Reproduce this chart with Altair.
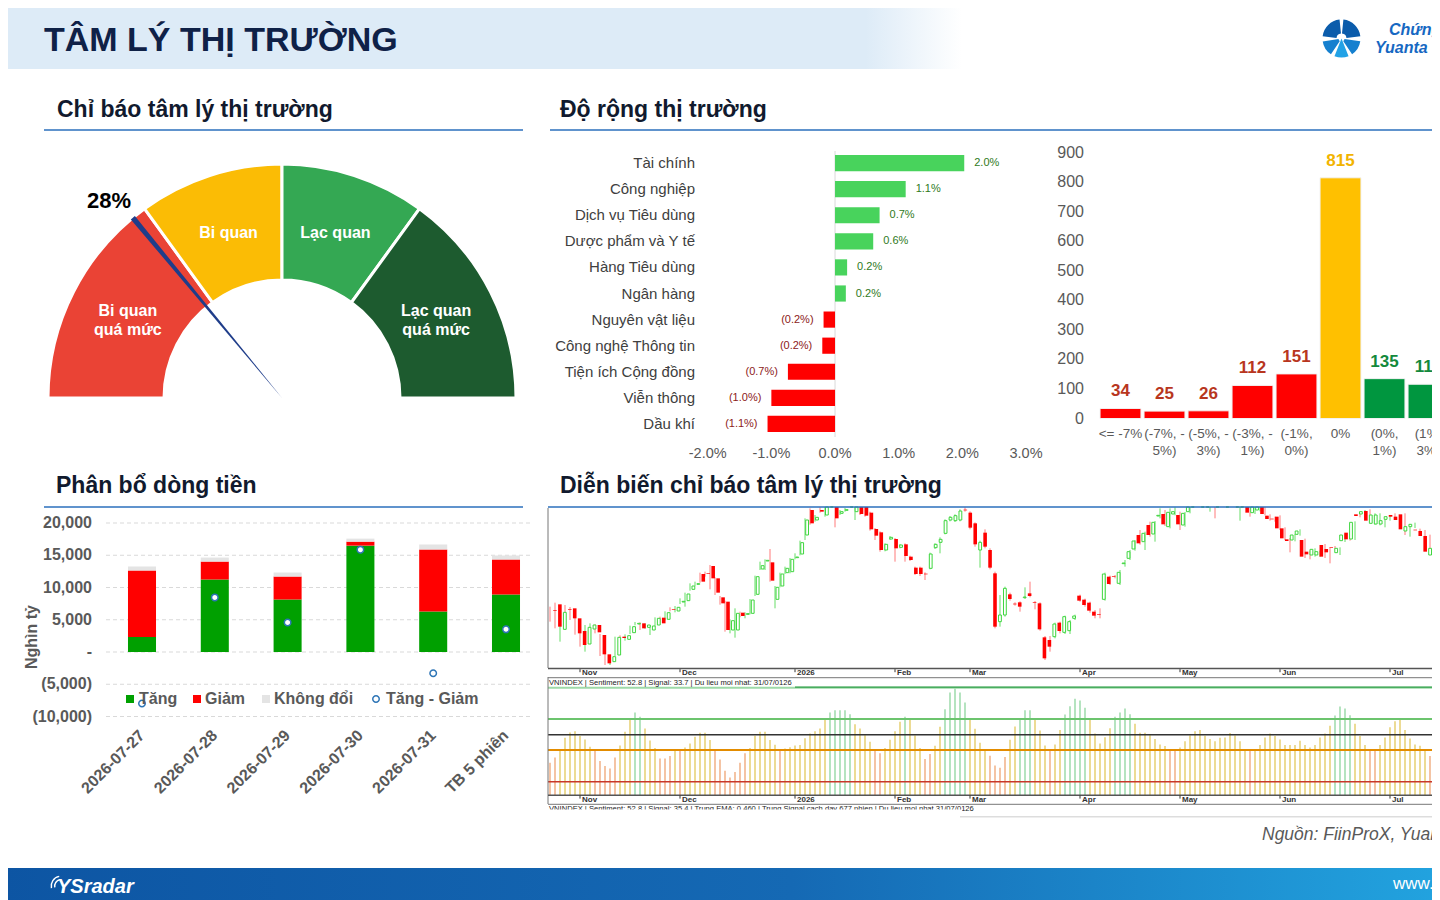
import altair as alt
import pandas as pd

FONT = "Liberation Sans"
W, H = 1424, 892


def px(x):
    return x - 8


def py(y):
    return y - 8


# ---------------------------------------------------------------- data
gauge_bounds = [0, 30, 50, 70, 100]
gauge_names = ["Bi quan\nquá mức", "Bi quan", "Lạc quan", "Lạc quan\nquá mức"]
gauge_colors = ["#ea4335", "#fbbc05", "#34a853", "#1d5b2f"]
sentiment_pct = 28

sectors = ["Tài chính", "Công nghiệp", "Dịch vụ Tiêu dùng", "Dược phẩm và Y tế",
           "Hàng Tiêu dùng", "Ngân hàng", "Nguyên vật liệu", "Công nghệ Thông tin",
           "Tiện ích Cộng đồng", "Viễn thông", "Dầu khí"]
sector_chg = [2.03, 1.11, 0.70, 0.60, 0.19, 0.17, -0.18, -0.20, -0.74, -1.00, -1.06]
sector_ticks = [-2, -1, 0, 1, 2, 3]
sector_tick_labels = ["-2.0%", "-1.0%", "0.0%", "1.0%", "2.0%", "3.0%"]

breadth_bins = ["<= -7%", "(-7%, -\n5%)", "(-5%, -\n3%)", "(-3%, -\n1%)",
                "(-1%,\n0%)", "0%", "(0%,\n1%)", "(1%,\n3%)"]
breadth_counts = [34, 25, 26, 112, 151, 815, 135, 116]
breadth_ticks = [0, 100, 200, 300, 400, 500, 600, 700, 800, 900]

flow_days = ["2026-07-27", "2026-07-28", "2026-07-29", "2026-07-30", "2026-07-31", "TB 5 phiên"]
flow_up = [2320, 11240, 8140, 16490, 6290, 8920]
flow_down = [10310, 2780, 3560, 620, 9590, 5410]
flow_flat = [620, 620, 620, 470, 770, 620]
flow_ticks = [20000, 15000, 10000, 5000, 0, -5000, -10000]
flow_tick_labels = ["20,000\u00a0", "15,000\u00a0", "10,000\u00a0", "5,000\u00a0",
                    "-\u00a0\u00a0\u00a0\u00a0", "(5,000)", "(10,000)"]

candle_open = [
    1670, 1687, 1612, 1673, 1675, 1645, 1607, 1568, 1613, 1625,
    1595, 1537, 1515, 1535, 1590, 1582, 1602, 1628, 1630, 1618,
    1610, 1625, 1647, 1642, 1673, 1667, 1694, 1698, 1732, 1747,
    1778, 1781, 1802, 1765, 1708, 1695, 1610, 1610, 1662, 1657,
    1660, 1717, 1793, 1817, 1813, 1702, 1742, 1782, 1785, 1827,
    1838, 1895, 1970, 1940, 1970, 1955, 1990, 1985, 1960, 1969,
    1985, 1965, 1985, 1985, 1962, 1913, 1903, 1850, 1883, 1883,
    1858, 1867, 1830, 1797, 1797, 1779, 1795, 1857, 1873, 1900,
    1940, 1938, 1940, 1971, 1962, 1930, 1850, 1902, 1850, 1780,
    1635, 1655, 1717, 1689, 1693, 1707, 1720, 1693, 1690, 1588,
    1580, 1590, 1632, 1603, 1608, 1645, 1713, 1701, 1692, 1665,
    1658, 1702, 1770, 1771, 1750, 1809, 1825, 1853, 1895, 1875,
    1925, 1898, 1952, 1958, 1920, 1958, 1955, 1925, 1965, 1985,
    1998, 1990, 1985, 1990, 1988, 2000, 1992, 1998, 1985, 1990,
    1985, 1962, 1970, 1985, 1953, 1944, 1950, 1915, 1882, 1880,
    1897, 1880, 1845, 1835, 1835, 1865, 1853, 1859, 1842, 1878,
    1902, 1883, 1957, 1958, 1967, 1930, 1928, 1928, 1942, 1955,
    1950, 1957, 1907, 1920, 1911, 1907, 1892, 1835, 1855]
candle_close = [
    1668, 1620, 1663, 1671, 1645, 1600, 1565, 1618, 1625, 1603,
    1537, 1510, 1530, 1588, 1586, 1593, 1620, 1630, 1615, 1625,
    1622, 1645, 1630, 1662, 1671, 1678, 1696, 1718, 1742, 1749,
    1755, 1779, 1765, 1722, 1690, 1610, 1638, 1660, 1652, 1659,
    1700, 1770, 1803, 1819, 1758, 1738, 1778, 1795, 1822, 1829,
    1872, 1940, 1930, 1948, 1965, 1985, 1995, 1945, 1965, 1971,
    1992, 1985, 1958, 1953, 1912, 1893, 1850, 1867, 1888, 1855,
    1865, 1832, 1820, 1778, 1778, 1777, 1838, 1867, 1882, 1938,
    1948, 1953, 1967, 1969, 1917, 1867, 1873, 1860, 1797, 1620,
    1655, 1735, 1703, 1687, 1680, 1709, 1712, 1691, 1612, 1525,
    1560, 1628, 1607, 1650, 1635, 1652, 1698, 1685, 1668, 1653,
    1656, 1778, 1748, 1769, 1783, 1811, 1845, 1877, 1870, 1900,
    1895, 1933, 1954, 1927, 1963, 1965, 1927, 1960, 1980, 1995,
    1990, 1998, 1992, 1984, 1996, 1990, 2000, 1990, 1992, 1996,
    1962, 1985, 1985, 1958, 1943, 1942, 1915, 1885, 1877, 1895,
    1907, 1830, 1837, 1852, 1845, 1830, 1843, 1857, 1855, 1895,
    1882, 1933, 1952, 1965, 1938, 1955, 1955, 1938, 1950, 1950,
    1940, 1912, 1920, 1927, 1909, 1892, 1845, 1855, 1817]
candle_high = [
    1680, 1692, 1667, 1685, 1679, 1648, 1610, 1625, 1630, 1627,
    1598, 1545, 1533, 1590, 1594, 1597, 1623, 1634, 1633, 1629,
    1625, 1648, 1650, 1666, 1678, 1682, 1705, 1722, 1750, 1755,
    1782, 1785, 1805, 1768, 1712, 1698, 1642, 1675, 1665, 1663,
    1703, 1773, 1815, 1822, 1853, 1742, 1782, 1800, 1826, 1840,
    1878, 1945, 1975, 1955, 1978, 1990, 2000, 1990, 1970, 1976,
    1998, 1990, 1990, 1990, 1965, 1916, 1906, 1870, 1892, 1886,
    1868, 1870, 1833, 1800, 1800, 1783, 1842, 1870, 1888, 1942,
    1952, 1957, 1972, 1978, 1966, 1933, 1878, 1912, 1855, 1785,
    1715, 1740, 1722, 1693, 1696, 1738, 1755, 1697, 1693, 1592,
    1592, 1632, 1635, 1653, 1640, 1656, 1716, 1704, 1695, 1670,
    1675, 1782, 1773, 1775, 1790, 1820, 1850, 1880, 1910, 1905,
    1935, 1937, 1975, 1970, 1975, 1978, 1965, 1964, 1985, 2000,
    2005, 2005, 1998, 1995, 2002, 2005, 2005, 2004, 1998, 2002,
    1990, 1990, 1990, 1990, 1957, 1950, 1954, 1918, 1886, 1898,
    1912, 1884, 1848, 1855, 1848, 1868, 1856, 1862, 1858, 1898,
    1905, 1936, 1962, 1970, 1972, 1960, 1960, 1942, 1955, 1960,
    1954, 1960, 1924, 1932, 1914, 1910, 1896, 1858, 1860]
candle_low = [
    1635, 1615, 1575, 1660, 1640, 1596, 1560, 1545, 1608, 1600,
    1532, 1505, 1505, 1532, 1582, 1578, 1598, 1624, 1610, 1614,
    1595, 1622, 1627, 1639, 1666, 1663, 1688, 1680, 1728, 1742,
    1752, 1770, 1732, 1715, 1686, 1605, 1600, 1587, 1648, 1645,
    1657, 1712, 1790, 1790, 1755, 1675, 1738, 1778, 1780, 1822,
    1834, 1880, 1926, 1935, 1962, 1950, 1985, 1918, 1955, 1965,
    1980, 1940, 1955, 1950, 1908, 1880, 1845, 1846, 1880, 1815,
    1855, 1815, 1817, 1775, 1772, 1760, 1792, 1853, 1840, 1897,
    1936, 1934, 1936, 1965, 1912, 1860, 1797, 1855, 1792, 1615,
    1620, 1650, 1698, 1683, 1665, 1703, 1708, 1672, 1608, 1520,
    1545, 1585, 1600, 1598, 1598, 1640, 1695, 1680, 1662, 1645,
    1645, 1698, 1745, 1765, 1745, 1800, 1820, 1848, 1866, 1850,
    1890, 1875, 1945, 1922, 1915, 1954, 1910, 1920, 1960, 1980,
    1985, 1985, 1965, 1945, 1982, 1985, 1988, 1985, 1938, 1985,
    1950, 1958, 1966, 1954, 1938, 1935, 1910, 1880, 1843, 1876,
    1893, 1826, 1822, 1830, 1830, 1826, 1810, 1852, 1835, 1874,
    1878, 1880, 1948, 1955, 1934, 1926, 1924, 1918, 1938, 1946,
    1936, 1895, 1890, 1916, 1905, 1888, 1835, 1810, 1812]

sentiment_osc = [
    30.1, 35.0, 42.8, 53.3, 58.3, 59.5, 54.9, 51.8, 45.0, 41.2,
    31.6, 27.0, 24.8, 35.0, 46.2, 58.9, 69.8, 76.9, 72.9, 62.0,
    50.8, 43.7, 34.1, 34.1, 36.3, 42.5, 41.9, 44.3, 48.1, 54.3,
    58.0, 58.0, 51.2, 41.9, 33.2, 22.6, 16.4, 21.4, 30.1, 38.8,
    43.7, 55.2, 58.9, 58.9, 51.2, 46.8, 41.9, 43.4, 44.6, 46.2,
    46.5, 53.0, 57.4, 59.5, 62.0, 70.4, 76.9, 79.1, 79.1, 79.1,
    75.3, 66.0, 62.0, 55.8, 49.6, 41.2, 38.8, 43.7, 51.5, 59.5,
    68.2, 72.9, 70.4, 55.5, 43.7, 33.5, 38.1, 45.9, 63.6, 80.0,
    95.5, 99.2, 95.5, 86.2, 69.8, 61.7, 48.7, 42.8, 36.6, 27.6,
    25.4, 35.3, 51.5, 63.9, 71.0, 79.1, 79.1, 70.4, 60.1, 46.2,
    41.2, 47.1, 60.5, 75.0, 82.8, 89.6, 88.0, 81.2, 70.4, 57.4,
    48.1, 53.9, 62.3, 72.9, 76.9, 80.6, 75.3, 66.3, 58.0, 58.0,
    55.8, 52.1, 47.1, 45.6, 41.9, 41.9, 44.3, 50.2, 55.5, 59.5,
    60.5, 55.2, 52.1, 50.2, 53.3, 53.6, 57.7, 55.5, 50.2, 42.5,
    41.5, 42.5, 46.5, 53.6, 57.4, 54.9, 51.8, 46.5, 46.5, 46.5,
    50.5, 46.5, 44.3, 46.5, 53.6, 57.4, 64.5, 74.1, 82.5, 80.6,
    74.4, 66.3, 54.9, 46.5, 41.9, 41.9, 46.5, 53.6, 63.2, 68.8,
    70.7, 60.5, 52.7, 47.1, 45.9, 42.5, 36.3, 34.7, 28.8]
osc_levels = [100, 70.8, 56.2, 41.9, 12.4]
osc_level_colors = ["#9edaa8", "#6cc46e", "#333333", "#e38c00", "#c8382a"]
osc_level_widths = [2.0, 2.0, 1.5, 2.0, 1.5]

month_names = ["Nov", "Dec", "2026", "Feb", "Mar", "Apr", "May", "Jun", "Jul"]
month_pos = [7, 27, 50, 70, 85, 107, 127, 147, 169]

# ---------------------------------------------------------------- helpers
ONE = pd.DataFrame({"k": [0]})
layers = []


def rect(x1, y1, x2, y2, **props):
    return alt.Chart(ONE).mark_rect(**props).encode(
        x=alt.value(px(x1)), x2=alt.value(px(x2)),
        y=alt.value(py(y1)), y2=alt.value(py(y2)))


def hline(x1, x2, y, color, w=1.0, dash=None):
    p = dict(color=color, strokeWidth=w)
    if dash:
        p["strokeDash"] = dash
    return alt.Chart(ONE).mark_rule(**p).encode(
        x=alt.value(px(x1)), x2=alt.value(px(x2)), y=alt.value(py(y)))


def vline(x, y1, y2, color, w=1.0):
    return alt.Chart(ONE).mark_rule(color=color, strokeWidth=w).encode(
        x=alt.value(px(x)), y=alt.value(py(y1)), y2=alt.value(py(y2)))


def text(s, x, y, size=12, color="#000000", weight="normal", align="left",
         baseline="middle", italic=False, **kw):
    p = dict(font=FONT, fontSize=size, color=color, fontWeight=weight,
             align=align, baseline=baseline)
    if italic:
        p["fontStyle"] = "italic"
    p.update(kw)
    return alt.Chart(pd.DataFrame({"t": [s]})).mark_text(**p).encode(
        x=alt.value(px(x)), y=alt.value(py(y)), text="t:N")


def wedge(cx, cy, a, b, r, r2, color):
    return alt.Chart(ONE).mark_arc(color=color).encode(
        theta=alt.value(a), theta2=alt.value(b), radius=alt.value(r), radius2=alt.value(r2),
        x=alt.value(px(cx)), y=alt.value(py(cy)))


def grad(stops):
    return {"gradient": "linear", "x1": 0, "x2": 1, "y1": 0, "y2": 0,
            "stops": [{"offset": o, "color": c} for o, c in stops]}


# ---------------------------------------------------------------- header
layers.append(rect(0, 0, 962, 69, fill=grad([(0, "#ddebf7"), (0.9, "#ddebf7"), (1, "#ffffff")])))
layers.append(text("TÂM LÝ THỊ TRƯỜNG", 44, 41, size=34, color="#0f2147", weight="bold"))

# logo (top right)
for a, b, r2, c in [(0.10, 1.45, 5, "#0b5cab"), (4.83, 6.18, 5, "#0b5cab"),
                    (1.72, 2.55, 3, "#1580cf"), (3.73, 4.56, 3, "#1580cf"),
                    (2.76, 3.52, 0, "#22a2e6")]:
    layers.append(wedge(1341.5, 38.5, a, b, 19, r2, c))
layers.append(text("Chứng khoán", 1389, 30, size=16, color="#1668c2", weight="bold", italic=True))
layers.append(text("Yuanta", 1375, 47.5, size=16, color="#1668c2", weight="bold", italic=True))

# section titles
TITLE_C = "#111a2e"
UL_C = "#2b6fbd"
layers.append(text("Chỉ báo tâm lý thị trường", 57, 110, size=23, color=TITLE_C, weight="bold"))
layers.append(hline(44, 523, 130, UL_C, 1.5))
layers.append(text("Độ rộng thị trường", 560, 110, size=23, color=TITLE_C, weight="bold"))
layers.append(hline(550, 1440, 130, UL_C, 1.5))
layers.append(text("Phân bổ dòng tiền", 56, 486, size=23, color=TITLE_C, weight="bold"))
layers.append(hline(44, 523, 507, UL_C, 1.5))
layers.append(text("Diễn biến chỉ báo tâm lý thị trường", 560, 486, size=23, color=TITLE_C, weight="bold"))

# ---------------------------------------------------------------- gauge
THETA = alt.Scale(domain=[0, 100], range=[4.71238898, 7.85398163])
GX, GY = px(282), py(398)
gdf = pd.DataFrame({"s": gauge_bounds[:-1], "e": gauge_bounds[1:], "c": gauge_colors,
                    "name": gauge_names,
                    "m": [(a + b) / 2 for a, b in zip(gauge_bounds[:-1], gauge_bounds[1:])]})
gdf["multi"] = gdf["name"].str.contains("\n")
layers.append(alt.Chart(gdf).mark_arc(stroke="white", strokeWidth=3).encode(
    theta=alt.Theta("s:Q", scale=THETA, stack=False), theta2="e:Q",
    radius=alt.value(234), radius2=alt.value(118),
    x=alt.value(GX), y=alt.value(GY), color=alt.Color("c:N", scale=None)))
ndf = pd.DataFrame({"s": [sentiment_pct - 0.36], "e": [sentiment_pct + 0.36]})
layers.append(alt.Chart(ndf).mark_arc(color="#1f3d8a").encode(
    theta=alt.Theta("s:Q", scale=THETA, stack=False), theta2="e:Q",
    radius=alt.value(234), radius2=alt.value(0),
    x=alt.value(GX), y=alt.value(GY)))
for sub, ddy in ((gdf[~gdf.multi], 0), (gdf[gdf.multi], -8.5)):
    layers.append(alt.Chart(sub).mark_text(font=FONT, fontSize=16, fontWeight="bold", color="white",
                                           lineBreak="\n", lineHeight=19, align="center",
                                           baseline="middle", dy=ddy).encode(
        theta=alt.Theta("m:Q", scale=THETA, stack=False), radius=alt.value(173),
        x=alt.value(GX), y=alt.value(GY), text="name:N"))
vdf = pd.DataFrame({"v": [sentiment_pct], "t": [f"{sentiment_pct}%"]})
layers.append(alt.Chart(vdf).mark_text(font=FONT, fontSize=22, fontWeight="bold", color="#000000",
                                       align="center", baseline="middle", dx=-6, dy=5).encode(
    theta=alt.Theta("v:Q", scale=THETA, stack=False), radius=alt.value(262),
    x=alt.value(GX), y=alt.value(GY), text="t:N"))

# ---------------------------------------------------------------- sector performance
SEC_Y = alt.Scale(domain=sectors, range=[py(150), py(437)], paddingInner=0.38, paddingOuter=0.19)
SEC_X = alt.Scale(domain=[-2, 3], range=[px(707.7), px(1026)], nice=False)
sdf = pd.DataFrame({
    "cat": sectors, "v": sector_chg,
    "col": ["#48d35c" if v >= 0 else "#ff0000" for v in sector_chg],
    "lab": [f"{v:.1f}%" if v >= 0 else f"({-v:.1f}%)" for v in sector_chg]})
layers.append(alt.Chart(pd.DataFrame({"z": [0]})).mark_rule(color="#d9d9d9", strokeWidth=1).encode(
    x=alt.X("z:Q", scale=SEC_X, axis=None), y=alt.value(py(151)), y2=alt.value(py(437))))
layers.append(alt.Chart(sdf).mark_bar().encode(
    y=alt.Y("cat:N", scale=SEC_Y, axis=None),
    x=alt.X("v:Q", scale=SEC_X, axis=None), x2=alt.datum(0),
    color=alt.Color("col:N", scale=None)))
layers.append(alt.Chart(sdf[sdf.v >= 0]).mark_text(font=FONT, fontSize=11, color="#2f7a1c",
                                                   align="left", dx=10).encode(
    y=alt.Y("cat:N", scale=SEC_Y, axis=None), x=alt.X("v:Q", scale=SEC_X, axis=None), text="lab:N"))
layers.append(alt.Chart(sdf[sdf.v < 0]).mark_text(font=FONT, fontSize=11, color="#8c1a1a",
                                                  align="right", dx=-10).encode(
    y=alt.Y("cat:N", scale=SEC_Y, axis=None), x=alt.X("v:Q", scale=SEC_X, axis=None), text="lab:N"))
layers.append(alt.Chart(sdf).mark_text(font=FONT, fontSize=15, color="#404040", align="right").encode(
    y=alt.Y("cat:N", scale=SEC_Y, axis=None), x=alt.value(px(695)), text="cat:N"))
stk = pd.DataFrame({"v": sector_ticks, "t": sector_tick_labels})
layers.append(alt.Chart(stk).mark_text(font=FONT, fontSize=14.5, color="#595959", align="center").encode(
    x=alt.X("v:Q", scale=SEC_X, axis=None), y=alt.value(py(454)), text="t:N"))

# ---------------------------------------------------------------- market breadth histogram
BR_X = alt.Scale(domain=breadth_bins, range=[px(1098.5), px(1450.5)], paddingInner=0.07, paddingOuter=0.035)
BR_Y = alt.Scale(domain=[0, 900], range=[py(418.5), py(152.7)], nice=False)
bcol = ["#ff0000"] * 5 + ["#ffc000"] + ["#00963f"] * 2
blab = ["#b8361e"] * 5 + ["#f2b400"] + ["#13893c"] * 2
bdf = pd.DataFrame({"b": breadth_bins, "n": breadth_counts, "c": bcol, "lc": blab})
layers.append(alt.Chart(bdf).mark_bar(stroke="#f2f2f2", strokeWidth=1).encode(
    x=alt.X("b:N", scale=BR_X, axis=None), y=alt.Y("n:Q", scale=BR_Y, axis=None), y2=alt.datum(0),
    color=alt.Color("c:N", scale=None)))
layers.append(alt.Chart(bdf).mark_text(font=FONT, fontSize=17, fontWeight="bold", baseline="middle",
                                       dy=-17).encode(
    x=alt.X("b:N", scale=BR_X, axis=None), y=alt.Y("n:Q", scale=BR_Y, axis=None),
    text="n:Q", color=alt.Color("lc:N", scale=None)))
layers.append(alt.Chart(bdf).mark_text(font=FONT, fontSize=13.5, color="#595959", lineBreak="\n",
                                       lineHeight=16.5, baseline="top", align="center").encode(
    x=alt.X("b:N", scale=BR_X, axis=None), y=alt.value(py(427)), text="b:N"))
layers.append(alt.Chart(pd.DataFrame({"v": breadth_ticks})).mark_text(
    font=FONT, fontSize=16, color="#595959", align="right").encode(
    y=alt.Y("v:Q", scale=BR_Y, axis=None), x=alt.value(px(1084)), text="v:Q"))

# ---------------------------------------------------------------- money flow
CF_X = alt.Scale(domain=flow_days, range=[px(105.6), px(542.4)], paddingInner=0.615, paddingOuter=0.3075)
CF_Y = alt.Scale(domain=[-10000, 20000], range=[py(716.5), py(523)], nice=False)
ftk = pd.DataFrame({"v": flow_ticks, "t": flow_tick_labels})
layers.append(alt.Chart(ftk).mark_rule(color="#d9d9d9", strokeWidth=1, strokeDash=[4, 3]).encode(
    y=alt.Y("v:Q", scale=CF_Y, axis=None), x=alt.value(px(106)), x2=alt.value(px(530))))
long_rows = []
for d, u, dn, f in zip(flow_days, flow_up, flow_down, flow_flat):
    long_rows.append({"d": d, "v": u, "c": "#00a000", "o": 0})
    long_rows.append({"d": d, "v": dn, "c": "#ff0000", "o": 1})
    long_rows.append({"d": d, "v": f, "c": "#e4e4e4", "o": 2})
fdf = pd.DataFrame(long_rows)
layers.append(alt.Chart(fdf).mark_bar().encode(
    x=alt.X("d:N", scale=CF_X, axis=None),
    y=alt.Y("v:Q", stack="zero", scale=CF_Y, axis=None),
    color=alt.Color("c:N", scale=None), order=alt.Order("o:Q")))
ndf2 = pd.DataFrame({"d": flow_days, "net": [u - dn for u, dn in zip(flow_up, flow_down)]})
layers.append(alt.Chart(ndf2).mark_point(filled=True, fill="white", stroke="#2e75b6", strokeWidth=1.5,
                                         size=42, opacity=1, shape="circle").encode(
    x=alt.X("d:N", scale=CF_X, axis=None), y=alt.Y("net:Q", scale=CF_Y, axis=None)))
layers.append(alt.Chart(ftk).mark_text(font=FONT, fontSize=16, fontWeight="bold", color="#595959",
                                       align="right").encode(
    y=alt.Y("v:Q", scale=CF_Y, axis=None), x=alt.value(px(92)), text="t:N"))
layers.append(text("Nghìn tỷ", 32, 637, size=16, color="#595959", weight="bold", align="center", angle=270))
layers.append(alt.Chart(pd.DataFrame({"d": flow_days})).mark_text(
    font=FONT, fontSize=16, fontWeight="bold", color="#595959", align="right", baseline="middle",
    angle=315).encode(x=alt.X("d:N", scale=CF_X, axis=None), y=alt.value(py(733)), text="d:N"))
# legend
layers.append(rect(126, 695, 134, 703, color="#00a000"))
layers.append(text("Tăng", 139, 699, size=16, color="#595959", weight="bold"))
layers.append(rect(193, 695, 201, 703, color="#ff0000"))
layers.append(text("Giảm", 205, 699, size=16, color="#595959", weight="bold"))
layers.append(rect(262, 695, 270, 703, color="#e4e4e4"))
layers.append(text("Không đổi", 274, 699, size=16, color="#595959", weight="bold"))
layers.append(alt.Chart(ONE).mark_point(filled=True, fill="white", stroke="#2e75b6", strokeWidth=1.5,
                                        size=42, opacity=1, shape="circle").encode(
    x=alt.value(px(376)), y=alt.value(py(699))))
layers.append(text("Tăng - Giảm", 386, 699, size=16, color="#595959", weight="bold"))

# ---------------------------------------------------------------- candlestick + oscillator
C_X = alt.Scale(domain=[0, 180], range=[px(545), px(1445)], nice=False)
C_Y = alt.Scale(domain=[1496, 1979], range=[py(668), py(507)], nice=False, clamp=True)
O_Y = alt.Scale(domain=[0, 100], range=[py(795), py(687.7)], nice=False)

cdf = pd.DataFrame({"i": list(range(1, len(candle_open) + 1)), "o": candle_open, "c": candle_close,
                    "h": candle_high, "l": candle_low})
cdf["up"] = cdf.c >= cdf.o
cdf["wc"] = ["#66dd66" if u else "#ff7a7a" for u in cdf.up]
layers.append(alt.Chart(cdf).mark_rule(strokeWidth=1).encode(
    x=alt.X("i:Q", scale=C_X, axis=None), y=alt.Y("l:Q", scale=C_Y, axis=None), y2="h:Q",
    color=alt.Color("wc:N", scale=None)))
layers.append(alt.Chart(cdf[~cdf.up]).mark_bar(width=3.6, color="#ff0000").encode(
    x=alt.X("i:Q", scale=C_X, axis=None), y=alt.Y("o:Q", scale=C_Y, axis=None), y2="c:Q"))
layers.append(alt.Chart(cdf[cdf.up]).mark_bar(width=2.8, fill="white", stroke="#3fd63f",
                                              strokeWidth=1).encode(
    x=alt.X("i:Q", scale=C_X, axis=None), y=alt.Y("o:Q", scale=C_Y, axis=None), y2="c:Q"))

odf = pd.DataFrame({"i": list(range(1, len(sentiment_osc) + 1)), "v": sentiment_osc})
odf["col"] = ["#a3ddb0" if v >= 70.8 else ("#f2b58d" if v < 42.0 else "#e8d27a") for v in sentiment_osc]
layers.append(alt.Chart(odf).mark_rule(strokeWidth=1.6).encode(
    x=alt.X("i:Q", scale=C_X, axis=None), y=alt.Y("v:Q", scale=O_Y, axis=None), y2=alt.datum(0),
    color=alt.Color("col:N", scale=None)))
for lv, lc, lw in zip(osc_levels, osc_level_colors, osc_level_widths):
    layers.append(alt.Chart(pd.DataFrame({"v": [lv]})).mark_rule(color=lc, strokeWidth=lw).encode(
        y=alt.Y("v:Q", scale=O_Y, axis=None), x=alt.value(px(548)), x2=alt.value(px(1440))))
layers.append(hline(795, 1440, 687.2, "#2e9e48", 1.2))

# frames / axes of the embedded chart
layers.append(vline(548, 508, 668, "#777777", 1))
layers.append(vline(548, 677, 804, "#777777", 1))
layers.append(hline(548, 1440, 668.5, "#555555", 1.5))
layers.append(hline(548, 1440, 677.7, "#777777", 1))
layers.append(hline(548, 1440, 795.2, "#555555", 1.5))
layers.append(hline(548, 1440, 804.3, "#777777", 1))
layers.append(hline(960, 1440, 816.7, "#dddddd", 1.5))
mdf = pd.DataFrame({"i": month_pos, "m": month_names})
for yl in (673.2, 799.6):
    layers.append(alt.Chart(mdf).mark_text(font=FONT, fontSize=8, fontWeight="bold", color="#333333",
                                           align="left", dx=2).encode(
        x=alt.X("i:Q", scale=C_X, axis=None), y=alt.value(py(yl)), text="m:N"))
    layers.append(alt.Chart(mdf).mark_rule(color="#333333", strokeWidth=1).encode(
        x=alt.X("i:Q", scale=C_X, axis=None), y=alt.value(py(yl - 4)), y2=alt.value(py(yl - 1))))
layers.append(text("VNINDEX  |  Sentiment: 52.8  |  Signal: 33.7  |  Du lieu moi nhat: 31/07/0126",
                   549, 683.3, size=7.6, color="#222222"))
layers.append(text("VNINDEX  |  Sentiment: 52.8  |  Signal: 35.4  |  Trung EMA: 0.460  |  "
                   "Trung Signal cach day 677 phien  |  Du lieu moi nhat 31/07/0126",
                   549, 808.8, size=7.6, color="#222222"))
layers.append(rect(540, 809.6, 962, 815.5, color="white"))
layers.append(hline(548, 1440, 507, UL_C, 1.5))

# ---------------------------------------------------------------- source & footer
layers.append(text("Nguồn: FiinProX, Yuanta Việt Nam", 1262, 835, size=17.5, color="#595959", italic=True))
layers.append(rect(0, 868, 1440, 900, fill=grad([(0, "#0d55a3"), (0.55, "#1569b4"), (1, "#22a3df")])))
layers.append(wedge(61, 886, 4.5, 6.1, 7, 5.6, "white"))
layers.append(wedge(61, 886, 4.5, 6.1, 10.5, 9.1, "white"))
layers.append(text("YSradar", 57, 887, size=20, color="white", weight="bold", italic=True))
layers.append(text("www.", 1393, 884, size=17, color="white"))
layers.append(text("yuanta.com.vn", 1434, 884, size=17, color="white", weight="bold"))

chart = alt.layer(*layers).properties(
    width=W, height=H, padding=0, autosize="none", background="white"
).resolve_scale(
    x="independent", y="independent", theta="independent", color="independent"
).configure_view(strokeWidth=0)

chart.save("out.html", embed_options={"renderer": "svg", "actions": False})
